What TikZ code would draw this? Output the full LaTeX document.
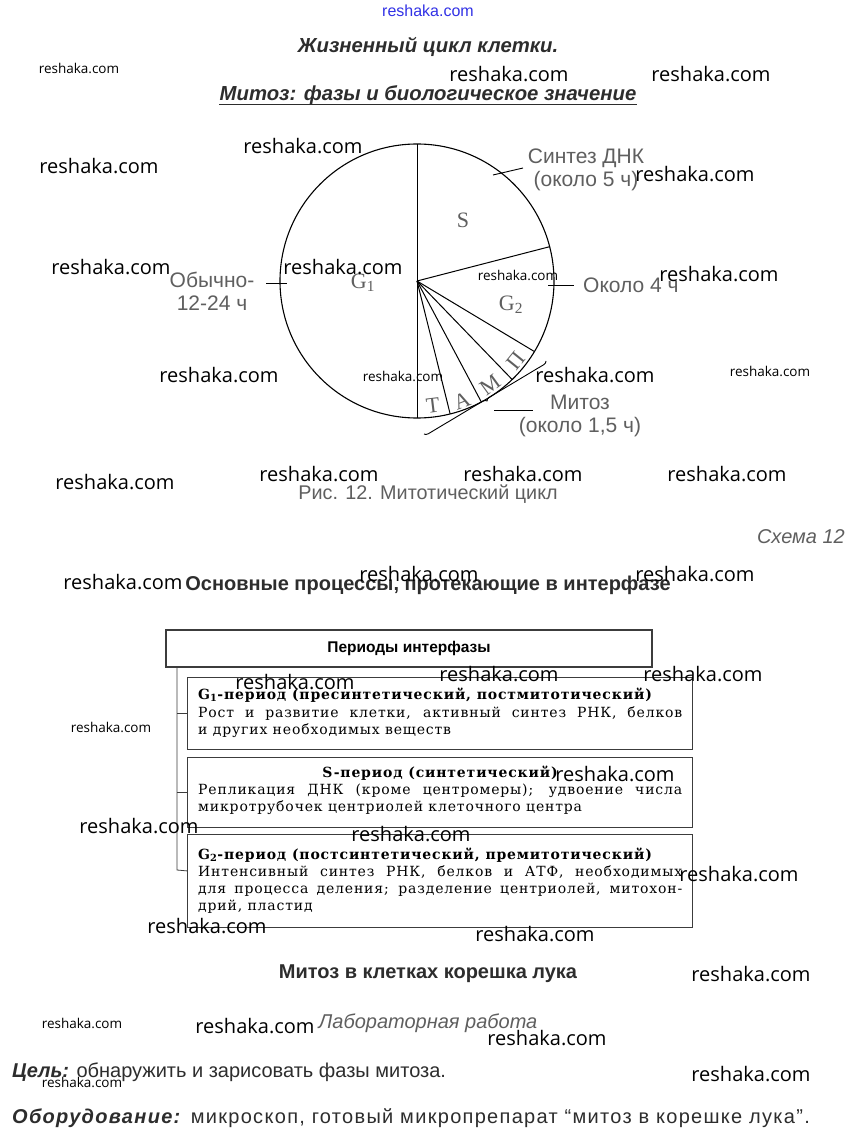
\documentclass[tikz,border=0pt]{standalone}
\usepackage{fontspec}
\setmainfont{Liberation Sans}
\newfontfamily\bookfont[LetterSpace=6]{DejaVu Serif}
\newfontfamily\romanfont{Liberation Serif}
\newfontfamily\wmfont{Open Sans}
\usepackage{tikz}
\usetikzlibrary{arrows.meta,calc,positioning,decorations.pathreplacing}
\definecolor{labgray}{RGB}{95,95,95}
\definecolor{titlegray}{RGB}{45,45,45}
\definecolor{wmblue}{RGB}{50,50,230}
\definecolor{boxline}{RGB}{60,60,60}

\begin{document}
\begin{tikzpicture}[x=1pt,y=-1pt,>=Stealth,
    lab/.style={text=labgray,font=\fontsize{21}{23}\selectfont,inner sep=0pt,align=center},
    phase/.style={text=labgray,font=\romanfont\fontsize{22}{24}\selectfont,inner sep=0pt},
    wm/.style={font=\wmfont\fontsize{20}{22}\selectfont,inner sep=0pt},
    wmsmall/.style={font=\wmfont\fontsize{13.5}{15}\selectfont,inner sep=0pt},
    headline/.style={text=titlegray,font=\fontsize{20.3}{22}\selectfont\bfseries\itshape,inner sep=0pt},
    periodbox/.style={draw=boxline,line width=0.8pt,minimum width=505pt,anchor=north west,inner sep=0pt},
    boxhead/.style={font=\bookfont\bfseries\fontsize{14}{17}\selectfont,inner sep=0pt},
    boxbody/.style={font=\bookfont\fontsize{14}{17}\selectfont,inner sep=0pt,anchor=north west,
      text width=484pt,align=justify},
    bottomtxt/.style={text=titlegray,font=\fontsize{20}{22}\selectfont,inner sep=0pt,anchor=west}]
  \useasboundingbox (0,0) rectangle (854,1147);
  \fill[white] (0,0) rectangle (854,1147);

  % titles
  \node[text=wmblue,font=\fontsize{16}{18}\selectfont,inner sep=0pt] (topwm) at (428,11) {reshaka.com};
  \node[headline] (title) at (428,47) {Жизненный цикл клетки.};
  \node[headline] (subtitle) at (428,95) {Митоз: фазы и биологическое значение};
  \draw[titlegray,line width=1.2pt] ($(subtitle.base west)+(0,4)$) -- ($(subtitle.base east)+(0,4)$);

  % mitotic cycle
  \coordinate (C) at (417,281);
  \draw[line width=1.1pt] (C) circle[radius=137];
  \foreach \a in {-90,-14.5,31,46,62,76,90}
    \draw[line width=1pt] (C) -- ($(C)+(\a:137)$);
  \node[phase] (S) at (463,220) {S};
  \node[phase] (G1) at (363,283) {G\textsubscript{1}};
  \node[phase] (G2) at (511,305) {G\textsubscript{2}};
  \node[phase,rotate=51] (P) at (516,361) {П};
  \node[phase,rotate=36] (M) at (490,385) {М};
  \node[phase,rotate=21] (A) at (462,401) {А};
  \node[phase,rotate=7] (T) at (433,406) {Т};

  \node[lab] (dna) at (586,170) {Синтез ДНК\\(около 5 ч)};
  \draw[line width=0.9pt] (493,175) -- (523,168);
  \node[lab,anchor=west] (g2time) at (583,285) {Около 4 ч};
  \draw[line width=0.9pt] (548,285) -- (574,285);
  \node[lab] (g1time) at (212,291) {Обычно-\\12-24 ч};
  \draw[line width=0.9pt] (266,283) -- (287,283);
  \draw[line width=0.9pt,decorate,decoration={brace,amplitude=4pt}] (546,361) -- (424,434);
  \draw[line width=0.9pt] (494,410) -- (533,410);
  \node[lab] (mitoz) at (580,416) {Митоз\\(около 1,5 ч)};
  \node[lab,font=\fontsize{19.8}{22}\selectfont] (fig) at (428,494) {Рис. 12. Митотический цикл};

  % scheme
  \node[lab,font=\fontsize{20}{22}\selectfont\itshape,anchor=east] (scheme) at (845,537) {Схема 12};
  \node[text=titlegray,font=\fontsize{20}{22}\selectfont\bfseries,inner sep=0pt] (mainproc) at (428,585)
    {Основные процессы, протекающие в интерфазе};

  \node[draw=boxline,line width=1.3pt,minimum width=486pt,minimum height=37pt,
    font=\fontsize{15.5}{17}\selectfont\bfseries] (header) at (409,648.5) {Периоды интерфазы};

  \node[periodbox,minimum height=72pt] (g1box) at (187,677) {};
  \node[periodbox,minimum height=70pt] (sbox) at (187,757) {};
  \node[periodbox,minimum height=93pt] (g2box) at (187,834) {};

  \node[boxhead] (g1head) at (425,695) {G\textsubscript{1}-период (пресинтетический, постмитотический)};
  \node[boxbody] (g1text) at (198,706) {Рост и развитие клетки, активный синтез РНК, белков\linebreak
    и других необходимых веществ};
  \node[boxhead] (shead) at (440,773) {S-период (синтетический)};
  \node[boxbody] (stext) at (198,784) {Репликация ДНК (кроме центромеры); удвоение числа\linebreak
    микротрубочек центриолей клеточного центра};
  \node[boxhead] (g2head) at (425,855) {G\textsubscript{2}-период (постсинтетический, премитотический)};
  \node[boxbody] (g2text) at (198,865) {Интенсивный синтез РНК, белков и АТФ, необходимых\linebreak
    для процесса деления; разделение центриолей, митохон-\linebreak дрий, пластид};

  \coordinate (spine) at (177,667);
  \draw[boxline,line width=0.8pt] (spine) -- (177,870) -- ($(g2box.west)+(0,-10)$);
  \draw[boxline,line width=0.8pt] (spine |- g1box.west) -- (g1box.west);
  \draw[boxline,line width=0.8pt] (spine |- sbox.west) -- (sbox.west);

  % lab work
  \node[text=titlegray,font=\fontsize{20}{22}\selectfont\bfseries,inner sep=0pt] (labtitle) at (428,974)
    {Митоз в клетках корешка лука};
  \node[lab,font=\fontsize{20}{22}\selectfont\itshape] (labwork) at (428,1023) {Лабораторная работа};
  \node[bottomtxt] (goal) at (12,1072) {\textbf{\textit{Цель:}} обнаружить и зарисовать фазы митоза.};
  \node[bottomtxt] (equip) at (12,1118) {\addfontfeatures{LetterSpace=6.5}%
    \textbf{\textit{Оборудование:}} микроскоп, готовый микропрепарат “митоз в корешке лука”.};

  % watermarks
  \foreach \wx/\wy [count=\i] in {509/74,711/74,303/146,99/166,695/174,111/267,343/267,719/274,
      219/375,595/375,319/474,523/474,727/474,115/482,123/582,419/574,695/574,295/682,499/674,
      703/674,615/774,139/826,411/834,739/874,207/926,535/934,751/974,255/1026,547/1038,751/1074}
    \node[wm] (wm\i) at (\wx,\wy) {reshaka.com};
  \foreach \wx/\wy [count=\i] in {79/68,518/275,403/376,770/371,111/727,82/1023,82/1082}
    \node[wmsmall] (wms\i) at (\wx,\wy) {reshaka.com};
\end{tikzpicture}
\end{document}
